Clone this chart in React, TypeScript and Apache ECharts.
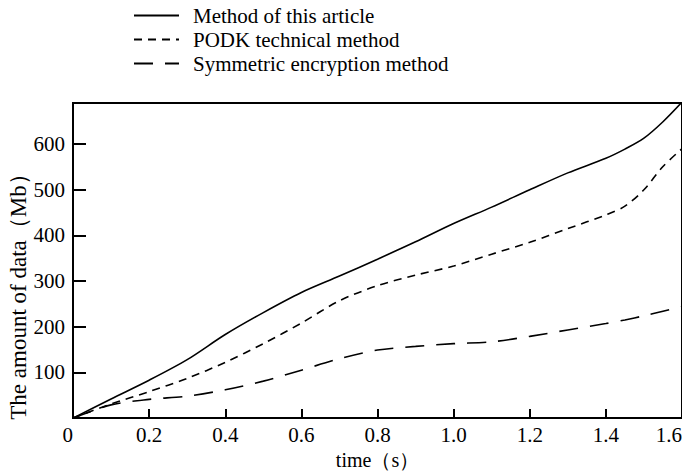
import React, { useEffect, useRef } from "react";
import * as echarts from "echarts";

const seriesNames = ["Method of this article", "PODK technical method", "Symmetric encryption method"];
const times = [0, 0.1, 0.2, 0.3, 0.4, 0.5, 0.6, 0.7, 0.8, 0.9, 1.0, 1.1, 1.2, 1.3, 1.4, 1.45, 1.5, 1.55, 1.6];
const methodValues = [0, 42, 83, 128, 183, 231, 275, 311, 348, 386, 426, 462, 500, 537, 569, 589, 613, 649, 692];
const podkValues = [0, 31, 58, 87, 122, 163, 208, 257, 290, 313, 333, 359, 385, 415, 445, 464, 500, 551, 590];
const symValues = [0, 29, 41, 48, 62, 81, 105, 130, 149, 157, 163, 167, 179, 193, 207, 215, 224, 234, 244];
const xAxisTitle = "time（s）";
const yAxisTitle = "The amount of data（Mb）";

const FONT = "'Liberation Serif', 'Times New Roman', serif";

export default function App() {
  const ref = useRef<HTMLDivElement>(null);
  useEffect(() => {
    if (!ref.current) return;
    const chart = echarts.init(ref.current, undefined, { renderer: "svg" });
    const pair = (vals: number[]) => times.map((t, i) => [t, vals[i]]);
    const dashes: (string | number[])[] = ["solid", [8, 6], [19, 12]];
    const all = [methodValues, podkValues, symValues];
    chart.setOption({
      animation: false,
      backgroundColor: "#fff",
      textStyle: { fontFamily: FONT, color: "#000" },
      legend: {
        orient: "vertical",
        left: 128,
        top: 0,
        itemWidth: 45,
        itemHeight: 14,
        itemGap: 3,
        selectedMode: false,
        data: seriesNames,
        itemStyle: { opacity: 0 },
        textStyle: { fontFamily: FONT, fontSize: 21, color: "#000", lineHeight: 21, padding: [0, 0, 0, 9] },
      },
      grid: { left: 73, right: 8, top: 103, bottom: 53, show: true, borderColor: "#000", borderWidth: 2 },
      xAxis: {
        type: "value",
        min: 0,
        max: 1.6,
        interval: 0.2,
        name: xAxisTitle,
        nameLocation: "middle",
        nameGap: 30,
        nameTextStyle: { fontFamily: FONT, fontSize: 20, color: "#000" },
        axisLine: { lineStyle: { color: "#000", width: 2 } },
        axisTick: { inside: true, length: 9, lineStyle: { color: "#000", width: 2 } },
        splitLine: { show: false },
        axisLabel: {
          fontFamily: FONT,
          fontSize: 21,
          color: "#000",
          margin: 6,
          alignMinLabel: "right",
          alignMaxLabel: "right",
          formatter: (v: number) => (v === 0 ? "0" : v.toFixed(1)),
        },
      },
      yAxis: {
        type: "value",
        min: 0,
        max: 690,
        interval: 100,
        axisLine: { show: true, lineStyle: { color: "#000", width: 2 } },
        axisTick: { show: true, inside: true, length: 13, lineStyle: { color: "#000", width: 2 } },
        splitLine: { show: false },
        axisLabel: {
          fontFamily: FONT,
          fontSize: 21,
          color: "#000",
          margin: 8,
          showMinLabel: false,
          showMaxLabel: false,
        },
      },
      graphic: [
        {
          type: "text",
          x: 18,
          y: 291,
          rotation: Math.PI / 2,
          style: {
            text: yAxisTitle,
            fontFamily: FONT,
            fontSize: 23,
            fill: "#000",
            align: "center",
            verticalAlign: "middle",
          },
        },
      ],
      series: seriesNames.map((name, i) => ({
        name,
        type: "line",
        data: pair(all[i]),
        smooth: 0.3,
        symbol: "none",
        color: "#000",
        lineStyle: { color: "#000", width: 1.6, type: dashes[i] },
      })),
    });
    return () => chart.dispose();
  }, []);
  return <div ref={ref} style={{ width: 690, height: 475, marginLeft: -8, marginTop: -8 }} />;
}
